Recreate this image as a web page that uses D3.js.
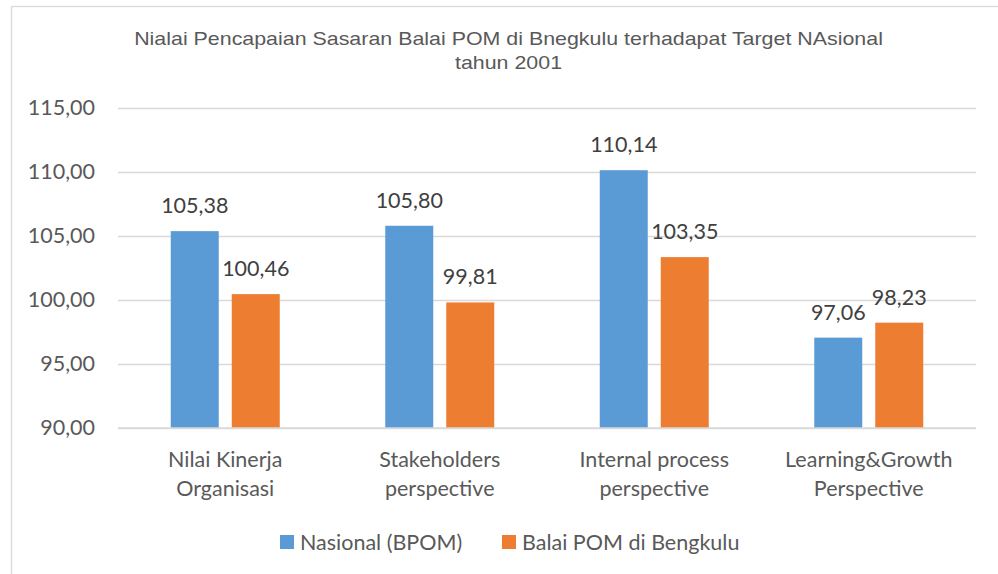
<!DOCTYPE html>
<html><head><meta charset="utf-8">
<script src="https://cdn.jsdelivr.net/npm/d3@7"></script>
<style>body{margin:0;background:#fff}svg{display:block}</style>
</head><body>
<svg id="c" width="998" height="574"></svg>
<script>
const categories = [["Nilai Kinerja","Organisasi"],["Stakeholders","perspective"],["Internal process","perspective"],["Learning&Growth","Perspective"]];
const seriesNames = ["Nasional (BPOM)","Balai POM di Bengkulu"];
const nasional = [105.38, 105.80, 110.14, 97.06];
const balai = [100.46, 99.81, 103.35, 98.23];
const yTicks = [90,95,100,105,110,115];
const colors = ["#5B9BD5","#ED7D31"];
const titleLines = ["Nialai Pencapaian Sasaran Balai POM di Bnegkulu terhadapat Target NAsional","tahun 2001"];

const svg = d3.select("#c");
const font = "Lato, 'Open Sans', sans-serif";
const fs = 21.5;
const txt = "#595959";

svg.append("rect").attr("x",11.5).attr("y",6.5).attr("width",1100).attr("height",700)
  .attr("fill","none").attr("stroke","#D9D9D9").attr("stroke-width",1.3);

const pL=118, pR=976, pT=108, pB=428;
const y = d3.scaleLinear().domain([90,115]).range([pB, pT]);
const cats = categories.map(c=>c.join(" "));
const x0 = d3.scaleBand().domain(cats).range([pL,pR]).padding(0);
const x1 = d3.scaleBand().domain(seriesNames).range([0,109]).paddingInner(13/61).paddingOuter(0);
const off = (x0.bandwidth()-109)/2;

// title (horizontally widened to match reference)
const tg = svg.append("g");
const tt = tg.append("text").attr("text-anchor","middle").attr("font-family","'Liberation Sans', Arial, sans-serif")
  .attr("font-size",18).attr("fill",txt);
tt.selectAll("tspan").data(titleLines).join("tspan")
  .attr("x",0).attr("y",(d,i)=>45.5+i*23.5).text(d=>d);
const w1 = tt.select("tspan").node().getComputedTextLength();
const sx = w1 > 0 ? 749 / w1 : 1;
tg.attr("transform",`translate(508.5,0) scale(${sx},1)`);

// grid + y axis
const yAxis = d3.axisLeft(y).tickValues(yTicks).tickSize(-(pR-pL)).tickPadding(23)
  .tickFormat(d=>d3.format(".2f")(d).replace(".",","));
const ga = svg.append("g").attr("transform",`translate(${pL},0)`).call(yAxis);
ga.select(".domain").remove();
ga.selectAll(".tick line").attr("stroke","#D9D9D9").attr("stroke-width",1.3);
ga.selectAll(".tick text").attr("font-family",font).attr("font-size",fs).attr("fill",txt);

// bars
const data = cats.map((c,i)=>({c, vals:[nasional[i], balai[i]]}));
const g = svg.selectAll("g.grp").data(data).join("g").attr("class","grp")
  .attr("transform",d=>`translate(${x0(d.c)+off},0)`);
g.selectAll("rect").data(d=>d.vals.map((v,j)=>({v,s:seriesNames[j],j}))).join("rect")
  .attr("x",d=>x1(d.s)).attr("width",x1.bandwidth())
  .attr("y",d=>y(d.v)).attr("height",d=>pB-y(d.v)).attr("fill",d=>colors[d.j]);
g.selectAll("text.lbl").data(d=>d.vals.map((v,j)=>({v,s:seriesNames[j],j}))).join("text")
  .attr("class","lbl").attr("text-anchor","middle")
  .attr("x",d=>x1(d.s)+x1.bandwidth()/2).attr("y",d=>y(d.v)-18)
  .attr("font-family",font).attr("font-size",fs).attr("fill","#404040")
  .text(d=>d3.format(".2f")(d.v).replace(".",","));

// baseline over bars
svg.append("line").attr("x1",pL).attr("x2",pR).attr("y1",pB).attr("y2",pB)
  .attr("stroke","#D9D9D9").attr("stroke-width",1.3);

// category labels
svg.selectAll("text.cat").data(categories).join("text").attr("class","cat")
  .attr("text-anchor","middle").attr("font-family",font).attr("font-size",fs).attr("fill",txt)
  .each(function(d,i){
    d3.select(this).selectAll("tspan").data(d).join("tspan")
      .attr("x",x0(cats[i])+x0.bandwidth()/2).attr("y",(t,k)=>467+k*28.5).text(t=>t);
  });

// legend
const legX = [280, 502];
const lg = svg.selectAll("g.leg").data(seriesNames).join("g").attr("class","leg")
  .attr("transform",(d,i)=>`translate(${legX[i]},535)`);
lg.append("rect").attr("width",14).attr("height",14).attr("fill",(d,i)=>colors[i]);
lg.append("text").attr("x",20).attr("y",14.5).attr("font-family",font).attr("font-size",fs)
  .attr("fill",txt).text(d=>d);
</script>
</body></html>
